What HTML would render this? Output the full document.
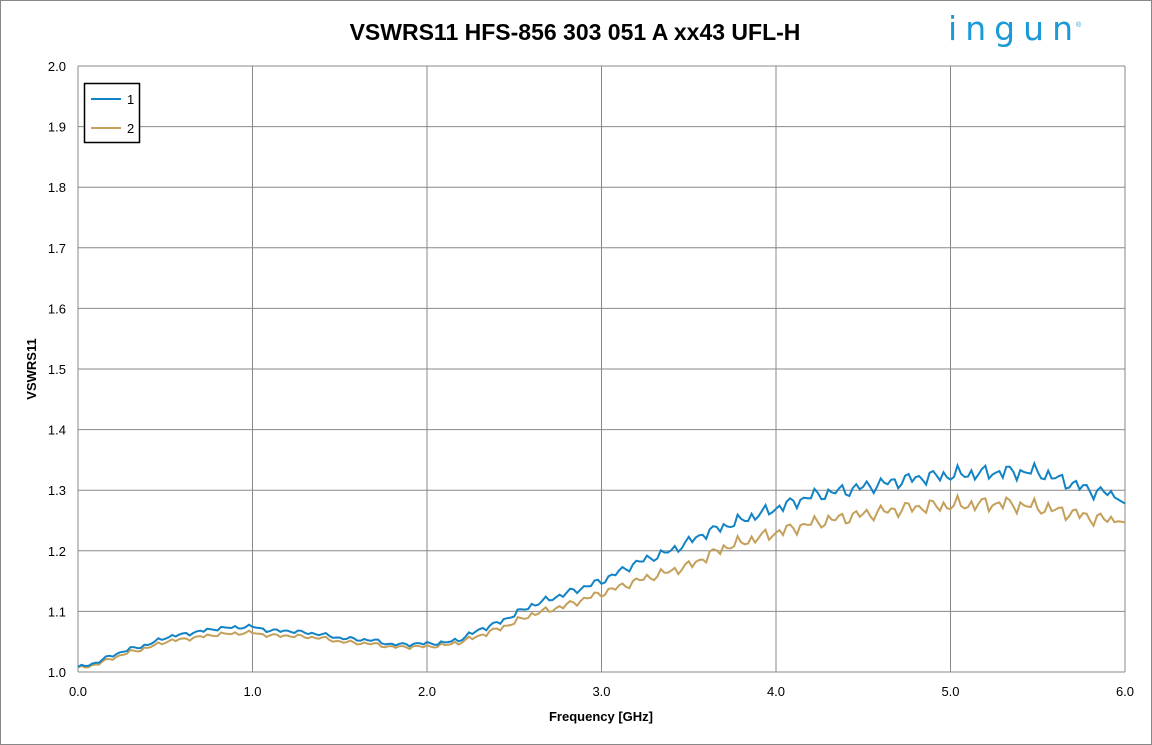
<!DOCTYPE html>
<html><head><meta charset="utf-8"><style>
body{margin:0;background:#fff;}
svg{display:block;font-family:"Liberation Sans",sans-serif;}
</style></head><body>
<svg id="s" width="1152" height="745" viewBox="0 0 1152 745">
<rect x="0.5" y="0.5" width="1151" height="744" fill="#fff" stroke="#888"/>
<text x="575" y="40" font-size="23" font-weight="bold" text-anchor="middle" fill="#000">VSWRS11 HFS-856 303 051 A xx43 UFL-H</text>
<text x="948" y="40" font-size="33" fill="#1a9ad6" font-family="DejaVu Sans,sans-serif" textLength="125" lengthAdjust="spacing">ingun</text>
<text x="1076" y="27" font-size="7" fill="#1a9ad6">®</text>
<g id="grid" stroke="#888" stroke-width="1"></g>
<g id="lbl" font-size="13" fill="#000"></g>
<text x="601" y="721" font-size="13" font-weight="bold" text-anchor="middle">Frequency [GHz]</text>
<text transform="translate(36,369) rotate(-90)" font-size="13" font-weight="bold" text-anchor="middle">VSWRS11</text>
<polyline id="p2" fill="none" stroke="#c4a05a" stroke-width="2"/>
<polyline id="p1" fill="none" stroke="#1283c4" stroke-width="2"/>
<rect x="84.5" y="83.5" width="55" height="59" fill="#fff" stroke="#000" stroke-width="1.5"/>
<line x1="91" y1="99" x2="121" y2="99" stroke="#1283c4" stroke-width="2"/>
<text x="127" y="104" font-size="13">1</text>
<line x1="91" y1="128" x2="121" y2="128" stroke="#c4a05a" stroke-width="2"/>
<text x="127" y="133" font-size="13">2</text>
</svg>
<script>
var X0=78,X1=1125,Y0=672,Y1=66;
function X(f){return X0+(X1-X0)*f/6}
function Y(v){return Y0-(Y0-Y1)*(v-1)}
var g=document.getElementById('grid'),l=document.getElementById('lbl'),h='',t='';
for(var i=0;i<=10;i++){var y=Y(1+i/10);h+='<line x1="'+X0+'" x2="'+X1+'" y1="'+y+'" y2="'+y+'"/>';t+='<text x="'+(X0-12)+'" y="'+(y+5)+'" text-anchor="end">'+(1+i/10).toFixed(1)+'</text>';}
for(var i=0;i<=6;i++){var x=X(i);h+='<line x1="'+x+'" x2="'+x+'" y1="'+Y1+'" y2="'+Y0+'"/>';t+='<text x="'+x+'" y="'+(Y0+24)+'" text-anchor="middle">'+i.toFixed(1)+'</text>';}
g.innerHTML=h;l.innerHTML=t;
var a1=[[0,1.007],[0.1,1.015],[0.2,1.028],[0.3,1.038],[0.4,1.045],[0.5,1.057],[0.6,1.062],[0.8,1.072],[1.0,1.075],[1.1,1.068],[1.2,1.068],[1.4,1.062],[1.5,1.056],[1.7,1.052],[1.8,1.045],[2.0,1.047],[2.1,1.048],[2.2,1.055],[2.3,1.07],[2.4,1.08],[2.5,1.095],[2.6,1.11],[2.8,1.13],[3.0,1.15],[3.1,1.165],[3.2,1.18],[3.4,1.2],[3.6,1.23],[3.8,1.25],[4.0,1.27],[4.2,1.29],[4.5,1.305],[4.8,1.32],[5.0,1.325],[5.3,1.33],[5.5,1.33],[5.7,1.31],[5.8,1.3],[5.9,1.295],[6.0,1.278]];
var a2=[[0,1.006],[0.1,1.012],[0.2,1.023],[0.3,1.033],[0.4,1.04],[0.5,1.05],[0.6,1.054],[0.8,1.062],[1.0,1.065],[1.1,1.06],[1.2,1.06],[1.4,1.056],[1.5,1.05],[1.7,1.046],[1.8,1.041],[2.0,1.042],[2.1,1.044],[2.2,1.05],[2.3,1.06],[2.4,1.07],[2.5,1.082],[2.6,1.095],[2.8,1.11],[3.0,1.13],[3.2,1.15],[3.5,1.175],[3.7,1.205],[4.0,1.23],[4.2,1.245],[4.5,1.26],[4.8,1.272],[5.0,1.275],[5.3,1.278],[5.5,1.272],[5.7,1.262],[5.8,1.255],[6.0,1.247]];
function interp(a,f){for(var i=1;i<a.length;i++){if(f<=a[i][0]){var p=a[i-1],q=a[i],u=(f-p[0])/(q[0]-p[0]);return p[1]+u*(q[1]-p[1]);}}return a[a.length-1][1];}
function build(a,id,seed){var pts=[];for(var k=0;k<=300;k++){var f=k*0.02;var amp=0.002+0.006*Math.min(1,Math.max(0,(f-2)/2.5));if(k>=298)amp=0;var w=amp*(Math.sin(k*1.7+seed)+0.6*Math.sin(k*0.9+seed*2)+0.4*Math.sin(k*3.1));var v=interp(a,f)+w;pts.push(X(f).toFixed(1)+','+Y(v).toFixed(1));}document.getElementById(id).setAttribute('points',pts.join(' '));}
build(a1,'p1',0.3);build(a2,'p2',0.5);
</script>
</body></html>
